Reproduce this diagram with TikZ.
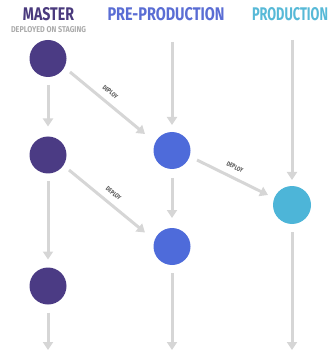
\documentclass[tikz,border=0pt]{standalone}
\usepackage{fontspec}
\usepackage{graphicx}
\setmainfont{Fira Sans}
\newfontfamily\narrowfont[FakeStretch=0.78]{Fira Sans}
\usetikzlibrary{arrows.meta,calc}

\definecolor{masterc}{HTML}{4B3B84}
\definecolor{prepc}{HTML}{4E6BDA}
\definecolor{prodc}{HTML}{4DB5D8}
\definecolor{mastert}{HTML}{4A3A7D}
\definecolor{prept}{HTML}{5A6DD4}
\definecolor{prodt}{HTML}{57B9D7}
\definecolor{linec}{HTML}{D6D6D6}
\definecolor{subt}{HTML}{ABABAB}
\definecolor{labelc}{HTML}{555555}

\begin{document}
\begin{tikzpicture}[x=1pt,y=-1pt,
  commit/.style={circle,minimum size=37pt,inner sep=0pt,outer sep=0pt,draw=none},
  flow/.style={draw=linec,line width=3pt,
    -{Triangle[width=10pt,length=8pt]}},
  title/.style={inner sep=0pt,font=\bfseries},
  deploylabel/.style={inner sep=0pt,text=labelc,
    font=\narrowfont\bfseries\fontsize{6.4}{6.4}\selectfont,sloped,above=6.5pt}
]
\useasboundingbox (0,0) rectangle (332,352);

% column headings
\node[title,text=mastert] (hm) at (48.5,14) {\resizebox{51pt}{13pt}{MASTER}};
\node[title,text=subt] (hs) at (48.5,30) {\resizebox{75pt}{6pt}{DEPLOYED ON STAGING}};
\node[title,text=prept] (hp) at (166,14) {\resizebox{117pt}{13pt}{PRE-PRODUCTION}};
\node[title,text=prodt] (hd) at (290,14) {\resizebox{76pt}{13pt}{PRODUCTION}};

% commits
\node[commit,fill=masterc] (m1) at (48,58.5) {};
\node[commit,fill=masterc] (m2) at (48,155) {};
\node[commit,fill=masterc] (m3) at (48,286) {};
\node[commit,fill=prepc] (p1) at (172,150.5) {};
\node[commit,fill=prepc] (p2) at (172,246.5) {};
\node[commit,fill=prodc,minimum size=38pt] (d1) at (292,205) {};

% free ends of the branch lines
\coordinate (ptop) at (172,42);
\coordinate (dtop) at (292,40);
\coordinate (mend) at (48,350);
\coordinate (pend) at (172,350);
\coordinate (dend) at (292,350);

% master branch
\draw[flow,shorten <=8pt,shorten >=10pt] (m1) -- (m2);
\draw[flow,shorten <=8pt,shorten >=8pt] (m2) -- (m3);
\draw[flow,shorten <=8pt] (m3) -- (mend);

% pre-production branch
\draw[flow,shorten >=7pt] (ptop) -- (p1);
\draw[flow,shorten <=9pt,shorten >=10pt] (p1) -- (p2);
\draw[flow,shorten <=8pt] (p2) -- (pend);

% production branch
\draw[flow,shorten >=6pt] (dtop) -- (d1);
\draw[flow,shorten <=8pt] (d1) -- (dend);

% deployments
\draw[flow] ($(m1)+(22,13.5)$) -- ($(p1)+(-27,-16.5)$)
  node[deploylabel,pos=0.45] (l1) {DEPLOY};
\draw[flow] ($(p1)+(25,9.5)$) -- ($(d1)+(-24,-10)$)
  node[deploylabel,pos=0.47] (l2) {DEPLOY};
\draw[flow] ($(m2)+(21,15)$) -- ($(p2)+(-27,-14)$)
  node[deploylabel,pos=0.5] (l3) {DEPLOY};
\end{tikzpicture}
\end{document}
